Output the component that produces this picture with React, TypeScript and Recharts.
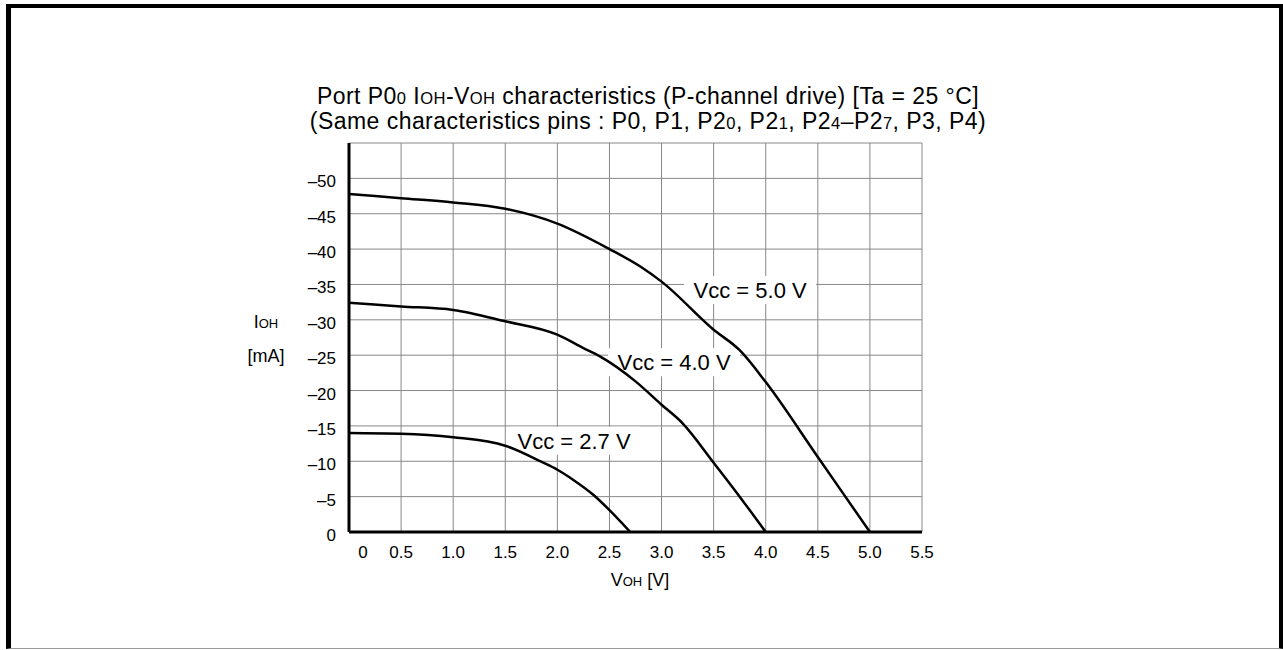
import React from "react";
import { LineChart, XAxis, YAxis, CartesianGrid, Line, ReferenceDot } from "recharts";

// VOH [V] / IOH [mA]
const vcc50V = [0, 0.5, 1.0, 1.5, 2.0, 2.5, 2.8, 3.0, 3.5, 3.75, 4.0, 4.5, 5.0];
const vcc50I = [-47.8, -47.2, -46.6, -45.7, -43.6, -40.0, -37.5, -35.4, -28.6, -25.7, -21.2, -10.6, 0];

const vcc40V = [0, 0.5, 1.0, 1.5, 2.0, 2.25, 2.4, 2.75, 3.0, 3.2, 3.5, 3.75, 4.0];
const vcc40I = [-32.4, -31.9, -31.4, -29.8, -27.9, -26.0, -24.9, -21.3, -18.0, -15.4, -9.8, -5.0, 0];

const vcc27V = [0, 0.5, 1.0, 1.5, 1.85, 2.0, 2.15, 2.35, 2.5, 2.7];
const vcc27I = [-14.0, -13.9, -13.4, -12.2, -9.9, -8.8, -7.4, -5.2, -3.1, 0];

const xTicks = [0, 0.5, 1.0, 1.5, 2.0, 2.5, 3.0, 3.5, 4.0, 4.5, 5.0, 5.5];
const yTicks = [0, -5, -10, -15, -20, -25, -30, -35, -40, -45, -50, -55];

// curve labels: [text, V, I]
const curveLabels: [string, number, number][] = [
  ["Vcc = 5.0 V", 3.85, -34.2],
  ["Vcc = 4.0 V", 3.12, -24.0],
  ["Vcc = 2.7 V", 2.16, -12.9],
];

const toRows = (vs: number[], is: number[]) => vs.map((v, k) => ({ v, i: is[k] }));
const vcc50 = toRows(vcc50V, vcc50I);
const vcc40 = toRows(vcc40V, vcc40I);
const vcc27 = toRows(vcc27V, vcc27I);

const FONT = "'Liberation Sans', Arial, Helvetica, sans-serif";
const small = { fontSize: "0.72em" };
const chartMargin = { top: 143, right: 361, bottom: 88, left: 289 };

const XTick = (props: any) => {
  const { x, y, payload } = props;
  const v = payload.value;
  const label = v === 0 ? "0" : v.toFixed(1);
  return (
    <text x={x + (v === 0 ? 14 : 0)} y={y + 26} textAnchor="middle" fontSize={17} fill="#000" fontFamily={FONT}>
      {label}
    </text>
  );
};

const YTick = (props: any) => {
  const { x, y, payload } = props;
  const v = payload.value;
  if (v === -55) return null;
  const label = v === 0 ? "0" : "\u2013" + Math.abs(v);
  return (
    <text x={x - 13} y={y + 9} textAnchor="end" fontSize={17} fill="#000" fontFamily={FONT}>
      {label}
    </text>
  );
};

const EmptyTick = () => <g />;

const CurveLabel = (text: string) => (props: any) => {
  const vb = props.viewBox;
  const cx = vb.x + vb.width / 2;
  const cy = vb.y + vb.height / 2;
  return (
    <g>
      <rect x={cx - 66} y={cy - 14} width={132} height={28} fill="#fff" />
      <text x={cx} y={cy + 8} textAnchor="middle" fontSize={22} fill="#000" fontFamily={FONT}>
        {text}
      </text>
    </g>
  );
};

// both layers share the same axes so the plot area lines up
const axes = (show: boolean) => [
  <XAxis
    key="x"
    type="number"
    dataKey="v"
    domain={[0, 5.5]}
    ticks={xTicks}
    allowDataOverflow
    height={30}
    tickSize={0}
    tickMargin={0}
    tickLine={false}
    axisLine={show ? { stroke: "#000", strokeWidth: 3 } : false}
    tick={show ? <XTick /> : <EmptyTick />}
  />,
  <YAxis
    key="y"
    type="number"
    dataKey="i"
    domain={[-55, 0]}
    reversed
    ticks={yTicks}
    allowDataOverflow
    width={60}
    tickSize={0}
    tickMargin={0}
    tickLine={false}
    axisLine={show ? { stroke: "#000", strokeWidth: 3 } : false}
    tick={show ? <YTick /> : <EmptyTick />}
  />,
];

export default function App() {
  return (
    <div style={{ position: "absolute", left: 0, top: 0, width: 1283, height: 650, fontFamily: FONT, color: "#000" }}>
      <div
        style={{
          position: "absolute",
          left: 6,
          top: 4,
          width: 1277,
          height: 645,
          boxSizing: "border-box",
          borderTop: "4px solid #000",
          borderLeft: "5px solid #000",
          borderRight: "4px solid #000",
          borderBottom: "1px solid #999",
        }}
      />
      <div
        style={{
          position: "absolute",
          left: 0,
          top: 85,
          width: 1296,
          textAlign: "center",
          fontSize: 23,
          letterSpacing: 0.45,
          lineHeight: "22px",
        }}
      >
        <div>
          Port P0<span style={small}>0</span> I<span style={small}>OH</span>-V<span style={small}>OH</span> characteristics
          (P-channel drive) [Ta = 25 °C]
        </div>
        <div>
          (Same characteristics pins : P0, P1, P2<span style={small}>0</span>, P2<span style={small}>1</span>, P2
          <span style={small}>4</span>–P2<span style={small}>7</span>, P3, P4)
        </div>
      </div>
      <div style={{ position: "absolute", left: 226, top: 306, width: 80, textAlign: "center", fontSize: 18, lineHeight: "33px" }}>
        <div>
          I<span style={{ fontSize: 13 }}>OH</span>
        </div>
        <div>[mA]</div>
      </div>
      <div style={{ position: "absolute", left: 560, top: 569, width: 160, textAlign: "center", fontSize: 18, lineHeight: "22px" }}>
        V<span style={{ fontSize: 13 }}>OH</span> [V]
      </div>
      {/* bottom layer: grid and curve labels */}
      <LineChart width={1283} height={650} style={{ position: "absolute", left: 0, top: 0 }} margin={chartMargin}>
        <CartesianGrid stroke="#888" strokeWidth={1} />
        {axes(false)}
        {curveLabels.map(([t, v, i]) => (
          <ReferenceDot key={t} x={v} y={i} r={1} fill="none" stroke="none" label={CurveLabel(t)} />
        ))}
      </LineChart>
      {/* top layer: axes and curves */}
      <LineChart width={1283} height={650} style={{ position: "absolute", left: 0, top: 0 }} margin={chartMargin}>
        {axes(true)}
        <Line data={vcc50} dataKey="i" type="monotone" stroke="#000" strokeWidth={2.5} dot={false} isAnimationActive={false} />
        <Line data={vcc40} dataKey="i" type="monotone" stroke="#000" strokeWidth={2.5} dot={false} isAnimationActive={false} />
        <Line data={vcc27} dataKey="i" type="monotone" stroke="#000" strokeWidth={2.5} dot={false} isAnimationActive={false} />
      </LineChart>
    </div>
  );
}
